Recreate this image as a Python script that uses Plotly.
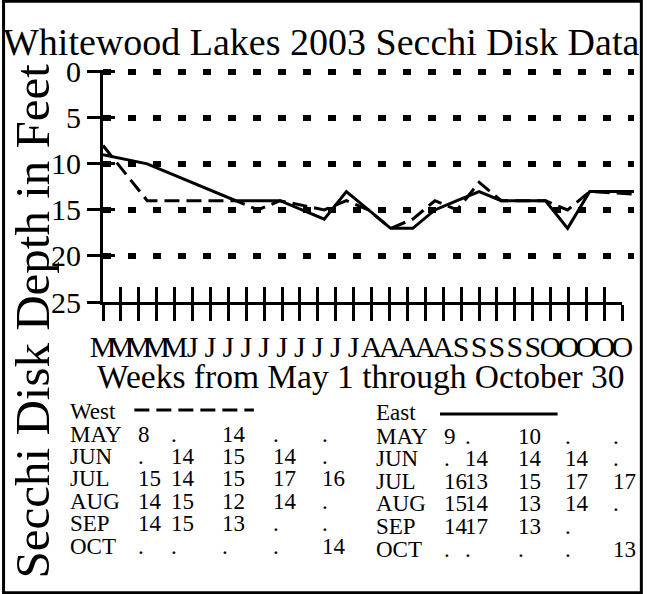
import plotly.graph_objects as go

# ---- data -------------------------------------------------------------
months = ["MAY", "JUN", "JUL", "AUG", "SEP", "OCT"]
weeks_per_month = 5

# Secchi depth (feet) for each week slot of each month; None = no reading
west = [
    [8, None, 14, None, None],
    [None, 14, 15, 14, None],
    [15, 14, 15, 17, 16],
    [14, 15, 12, 14, None],
    [14, 15, 13, None, None],
    [None, None, None, None, 14],
]
east = [
    [9, None, 10, None, None],
    [None, 14, 14, 14, None],
    [16, 13, 15, 17, 17],
    [15, 14, 13, 14, None],
    [14, 17, 13, None],
    [None, None, None, None, 13],
]
depth_ticks = [0, 5, 10, 15, 20, 25]
week_labels = [m[0] for m in months for _ in range(weeks_per_month)]
week_slots = list(range(1, len(week_labels) + 1))

# ---- page geometry (pixels) ---------------------------------------------
W, H = 654, 594
FT = 9.2                                # pixels per foot of depth
Y_TOP_PAD = 0.2                         # feet above 0 so the 0 grid line shows
L, R, B = 103, 645, 302                 # plot area left/right/bottom
T = B - (25 + Y_TOP_PAD) * FT           # plot area top
TICK_END = 633                          # last week tick
PW, PH = R - L, B - T

def px(x):
    return (x - L) / PW

def py(y):
    return (B - y) / PH

FONT = "Liberation Serif, Times New Roman, serif"
INK = "black"
CLEAR = "rgba(0,0,0,0)"


def series(rows):
    xs, ys = [], []
    for mi, row in enumerate(rows):
        for wi, v in enumerate(row):
            if v is not None:
                xs.append(mi * weeks_per_month + wi + 1)
                ys.append(v)
    return xs, ys


fig = go.Figure()

wx, wy = series(west)
ex, ey = series(east)
fig.add_trace(go.Scatter(x=wx, y=wy, mode="lines", name="West",
                         line=dict(color=INK, width=3, dash="15px,7px")))
fig.add_trace(go.Scatter(x=ex, y=ey, mode="lines", name="East",
                         line=dict(color=INK, width=3)))

# empty traces so the helper axes get drawn
for xa, ya in [("x2", "y"), ("x3", "y"), ("x", "y2")]:
    fig.add_trace(go.Scatter(x=[None], y=[None], xaxis=xa, yaxis=ya,
                             showlegend=False, hoverinfo="skip"))

tick_dom = [0, (TICK_END - L) / PW]
y_range = [25, -Y_TOP_PAD]

fig.update_layout(
    width=W, height=H,
    margin=dict(l=L, r=W - R, t=T, b=H - B, pad=0),
    paper_bgcolor="white", plot_bgcolor=CLEAR,
    showlegend=False,
    font=dict(family=FONT, color=INK),
    xaxis=dict(range=[1, 25], visible=False, showgrid=False, zeroline=False),
    xaxis2=dict(domain=tick_dom, anchor="y", range=[1, len(week_slots)],
                tickmode="array", tickvals=week_slots, ticktext=week_labels,
                ticks="outside", ticklen=16, tickwidth=3, tickcolor=INK,
                showline=True, linewidth=3, linecolor=INK, tickangle=0,
                showgrid=False, zeroline=False,
                tickfont=dict(family=FONT, size=30, color=INK)),
    xaxis3=dict(domain=tick_dom, anchor="y", range=[1, len(week_slots)],
                tickmode="array", tickvals=week_slots,
                ticks="inside", ticklen=15, tickwidth=3, tickcolor=INK,
                showticklabels=False, showline=False, showgrid=False,
                zeroline=False),
    yaxis=dict(range=y_range, tickmode="array", tickvals=depth_ticks,
               ticktext=[str(v) for v in depth_ticks],
               ticks="outside", ticklen=13, tickwidth=3, tickcolor=INK,
               showline=True, linewidth=3, linecolor=INK,
               showgrid=True, gridcolor=INK, gridwidth=6,
               griddash="8px,17px", zeroline=False,
               tickfont=dict(family=FONT, size=30, color=INK)),
    yaxis2=dict(overlaying="y", anchor="x", side="left", range=y_range,
                tickmode="array", tickvals=depth_ticks,
                ticks="inside", ticklen=12, tickwidth=3, tickcolor=INK,
                showticklabels=False, showline=False, showgrid=False,
                zeroline=False),
)

ann = []
ann.append(dict(text="Whitewood Lakes 2003 Secchi Disk Data",
                x=px(326), y=py(42), xanchor="center", yanchor="middle",
                font=dict(size=38)))
ann.append(dict(text="Weeks from May 1 through October 30",
                x=px(366), y=py(376), xanchor="center", yanchor="middle",
                font=dict(size=33.5)))
ann.append(dict(text="Secchi Disk Depth in Feet", textangle=-90,
                x=px(31), y=py(321), xanchor="center", yanchor="middle",
                font=dict(size=49)))

# ---- data tables under the chart ---------------------------------------
def table(name, rows, x_name, col_x, y_head, y_first, row_step,
          line_x, line_y, dash):
    out = [dict(text=name, x=px(x_name), y=py(y_head),
                xanchor="left", yanchor="middle", font=dict(size=23))]
    for i, (m, row) in enumerate(zip(months, rows)):
        yy = py(y_first + i * row_step)
        out.append(dict(text=m, x=px(x_name), y=yy, xanchor="left",
                        yanchor="middle", font=dict(size=23)))
        for j, v in enumerate(row):
            out.append(dict(text="." if v is None else str(v),
                            x=px(col_x[j]), y=yy, xanchor="left",
                            yanchor="middle", font=dict(size=23)))
    shape = dict(type="line", xref="paper", yref="paper",
                 x0=px(line_x[0]), x1=px(line_x[1]),
                 y0=py(line_y), y1=py(line_y),
                 line=dict(color=INK, width=3, dash=dash))
    return out, shape

w_ann, w_line = table("West", west, 67, [137, 170, 222, 274, 325],
                      411, 434, 22.4, (135, 257), 410, "15px,7px")
e_ann, e_line = table("East", east, 380, [449, 470, 525, 573, 622],
                      412, 436, 22.6, (447, 567), 414, "solid")

for a in ann + w_ann + e_ann:
    a.update(xref="paper", yref="paper", showarrow=False)
    a.setdefault("font", {})
    a["font"].update(family=FONT, color=INK)

fig.update_layout(annotations=ann + w_ann + e_ann)

# outer frame
frame = dict(type="rect", xref="paper", yref="paper",
             x0=px(1.5), x1=px(652.5), y0=py(1.5), y1=py(592.5),
             line=dict(color=INK, width=3), fillcolor=CLEAR)
fig.update_layout(shapes=[w_line, e_line, frame])

fig.write_html("out.html")
